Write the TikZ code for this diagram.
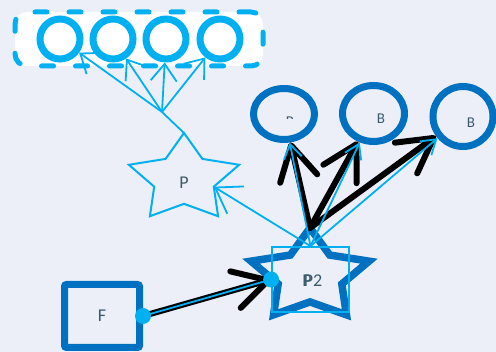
\documentclass[tikz,border=0pt]{standalone}
\usepackage{fontspec}
\setmainfont{Carlito}
\usetikzlibrary{shapes,arrows.meta,calc,positioning,backgrounds}

\definecolor{cyanline}{HTML}{00B0F0}
\definecolor{darkblue}{HTML}{0070C0}
\definecolor{paper}{HTML}{ECEFF7}
\definecolor{labeltext}{HTML}{3B5A6E}

\begin{document}
\begin{tikzpicture}[x=1pt,y=-1pt,
        every node/.style={text=labeltext,font=\fontsize{18}{19}\selectfont},
        groupbox/.style={rectangle,draw=cyanline,fill=white,line width=5pt,rounded corners=12pt,
            line cap=round,dash pattern=on 12pt off 22pt},
        ring/.style={circle,draw=cyanline,line width=7pt,minimum size=40pt,inner sep=0pt},
        bigring/.style={ellipse,draw=darkblue,line width=7pt,inner sep=0pt},
        blabel/.style={font=\fontsize{15}{15}\selectfont},
        cyanarrow/.style={draw=cyanline,line width=1.8pt,-{Straight Barb[length=17pt,width=26pt]}},
        smallcyanarrow/.style={draw=cyanline,line width=1.8pt,-{Straight Barb[length=14pt,width=18pt]}},
        blackarrow/.style={draw=black,line width=6pt,line cap=round,
            -{Straight Barb[round,length=34pt,width=38pt]}},
        joint/.style={circle,fill=cyanline,inner sep=0pt,minimum size=16pt}]
        %\draw [help lines] (0,0) grid[step=20pt] (496,352);

        \fill[paper] (0,0) rectangle (496,352);
        \useasboundingbox (0,0) rectangle (496,352);

        \node [groupbox,minimum width=248pt,minimum height=54pt] (group) at (139,39) {};

        \node [ring] (r1) at (60,39) {};
        \node [ring] (r2) at (113,39) {};
        \node [ring] (r3) at (166,39) {};
        \node [ring] (r4) at (220,39) {};

        \coordinate (fan) at (162,112);

        % star P
        \begin{scope}[shift={(184,179)},x=58pt,y=46pt]
            \draw[cyanline,line width=2pt] (90:1) \foreach \a in {0,...,4} {-- (126+72*\a:0.54) -- (162+72*\a:1)} -- cycle;
            \coordinate (Ptop) at (90:1);
            \coordinate (Pin) at (-18:0.54);
        \end{scope}
        \node (P) at (184,183) {P};

        \foreach \r in {r1,r2,r3,r4}
            \draw[cyanarrow] (fan) -- (\r);
        \draw[cyanline,line width=1.8pt] (fan) -- (Ptop);

        % star P2 with its box
        \begin{scope}[shift={(310,276)},x=62pt,y=48pt]
            \draw[darkblue,line width=7.5pt] (90:1) \foreach \a in {0,...,4} {-- (126+72*\a:0.54) -- (162+72*\a:1)} -- cycle;
            \coordinate (P2top) at (90:1);
        \end{scope}
        \node [rectangle,draw=cyanline,line width=1.8pt,minimum width=77pt,minimum height=65pt] (P2) at (310.5,279.5) {};
        \node (P2a) at (307,281) {P};
        \node (P2b) at (313,281) {P2};

        \node [bigring,minimum width=61pt,minimum height=51pt] (B1) at (284,114) {};
        \node [bigring,minimum width=62pt,minimum height=56pt] (B2) at (373.5,113.5) {};
        \node [bigring,minimum width=60pt,minimum height=60pt] (B3) at (463,116.5) {};
        \begin{scope}
            \clip (280,108) rectangle (300,118.5);
            \node [blabel] (B1label) at (290,122) {B};
        \end{scope}
        \node [blabel] (B2label) at (381,119) {B};
        \node [blabel] (B3label) at (471,123) {B};

        \node [rectangle,draw=darkblue,line width=7pt,rounded corners=2pt,minimum width=75pt,minimum height=63pt] (F) at (102,316) {F};

        \draw[blackarrow] (P2top) -- (B1);
        \draw[blackarrow] (P2top) -- (B2);
        \draw[blackarrow] (P2top) -- (B3);
        \draw[blackarrow] (F.east) -- (P2.west);

        \draw[smallcyanarrow] (P2.north) -- (B1);
        \draw[smallcyanarrow] (P2.north) -- (B2);
        \draw[smallcyanarrow] (P2.north) -- (B3);
        \draw[cyanarrow,-{Straight Barb[length=24pt,width=32pt]}] (P2.north) -- (Pin);
        \draw[cyanline,line width=1.8pt] (F.east) -- (P2.west);

        \node [joint] (Fdot) at (F.east) {};
        \node [joint] (P2dot) at (P2.west) {};
\end{tikzpicture}
\end{document}
